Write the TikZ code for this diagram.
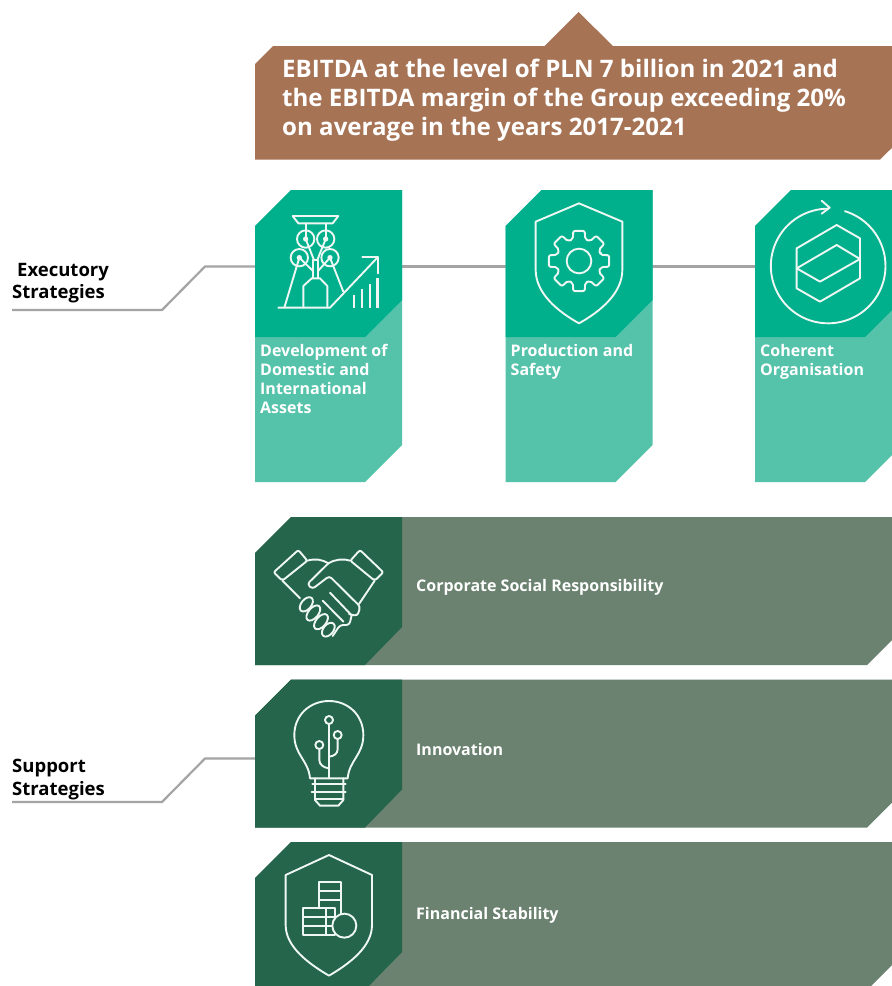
\documentclass[tikz,border=0pt]{standalone}
\usepackage{fontspec}
\setmainfont{Open Sans}
\definecolor{brownbar}{HTML}{A67355}
\definecolor{greenA}{HTML}{00B08C}
\definecolor{greenB}{HTML}{55C2AA}
\definecolor{darkA}{HTML}{24654C}
\definecolor{darkB}{HTML}{6B8270}
\definecolor{connc}{HTML}{A4A4A4}
\definecolor{iconc}{HTML}{EEF7F3}
\tikzset{
  conn/.style={draw=connc,line width=2.2pt,line join=round},
  icon/.style={x=0.33333pt,y=-0.33333pt,draw=iconc,line width=1.9pt,line join=round,line cap=round},
  cardtext/.style={text=white,font=\bfseries\fontsize{16}{19}\selectfont,align=left,inner sep=0pt},
  sidetext/.style={text=black,font=\bfseries\fontsize{18.5}{22.5}\selectfont,align=left,inner sep=0pt},
  titletext/.style={text=white,font=\bfseries\fontsize{24.1}{29.2}\selectfont,align=left,inner sep=0pt}
}
\newcommand{\myvcard}{%
  \fill[greenB] (0,226) -- (36,190) -- (147,190) -- (147,445) -- (110,482) -- (0,482) -- cycle;
  \fill[greenA] (0,226) -- (36,190) -- (147,190) -- (147,300) -- (110,337) -- (0,337) -- cycle;
}
\newcommand{\myhbar}[1]{%
  \begin{scope}[yshift=-#1pt]
  \fill[darkB] (0,36) -- (36,0) -- (660,0) -- (660,100) -- (612,148) -- (0,148) -- cycle;
  \fill[darkA] (0,36) -- (36,0) -- (147,0) -- (147,110) -- (110,148) -- (0,148) -- cycle;
  \end{scope}
}
\begin{document}
\begin{tikzpicture}[x=1pt,y=-1pt]
\useasboundingbox (0,0) rectangle (892,986);
\clip (0,0) rectangle (892,986);
\fill[white] (0,0) rectangle (892,986);

% anchors for connectors
\coordinate (execFree) at (12,310);
\coordinate (execKneeA) at (162,310);
\coordinate (execKneeB) at (205,266.5);
\coordinate (cardAL) at (256,266.5);
\coordinate (cardAR) at (401,266.5);
\coordinate (cardBL) at (506,266.5);
\coordinate (cardBR) at (652,266.5);
\coordinate (cardCL) at (756,266.5);
\coordinate (suppFree) at (12,802);
\coordinate (suppKneeA) at (162,802);
\coordinate (suppKneeB) at (205,758.5);
\coordinate (barBL) at (256,758.5);

\draw[conn] (execFree) -- (execKneeA) -- (execKneeB) -- (cardAL);
\draw[conn] (cardAR) -- (cardBL);
\draw[conn] (cardBR) -- (cardCL);
\draw[conn] (suppFree) -- (suppKneeA) -- (suppKneeB) -- (barBL);

% title banner
\fill[brownbar] (255,64) -- (273,46) -- (544.5,46) -- (578.5,12) -- (613,46) -- (900,46) -- (900,140) -- (880,159.5) -- (255,159.5) -- cycle;
\node[titletext,anchor=north west] (title) at (282,58.6) {EBITDA at the level of PLN 7 billion in 2021 and\\the EBITDA margin of the Group exceeding 20\%\\on average in the years 2017-2021};

% cards
\begin{scope}[xshift=255pt]\myvcard\end{scope}
\begin{scope}[xshift=505.5pt]\myvcard\end{scope}
\begin{scope}[xshift=755pt]\myvcard\end{scope}

\node[cardtext,anchor=north west] (lblA) at (260,344) {Development of\\Domestic and\\International\\Assets};
\node[cardtext,anchor=north west] (lblB) at (510.5,344) {Production and\\Safety};
\node[cardtext,anchor=north west] (lblC) at (760,344) {Coherent\\Organisation};

% bars
\begin{scope}[xshift=255pt]\myhbar{517}\myhbar{679.5}\myhbar{842}\end{scope}
\node[cardtext,anchor=west] (lblD) at (416,587.8) {Corporate Social Responsibility};
\node[cardtext,anchor=west] (lblE) at (416,749.3) {Innovation};
\node[cardtext,anchor=west] (lblF) at (416,915) {Financial Stability};

\node[sidetext,anchor=north west] (execLbl) at (12,263) {\hspace*{5pt}Executory\\Strategies};
\node[sidetext,anchor=north west] (suppLbl) at (12,759) {Support\\Strategies};

% mine icon
\begin{scope}[icon,xshift=240pt,yshift=-180pt]
  \draw (158,108) -- (295,108) -- (278,130) -- (175,130) -- cycle;
  \draw (197,130) -- (197,177) (257,130) -- (257,177);
  \foreach \cx/\cy in {197/177,257/177,178/233,270/233}{
    \draw (\cx,\cy) circle (26);
    \fill[iconc,draw=none] (\cx,\cy) circle (8);
  }
  \draw (178,233) -- (133,383);
  \draw (270,233) -- (310,335);
  \draw (197,177) -- (222,240) (257,177) -- (232,240);
  \draw (218,295) -- (218,240) -- (235,240) -- (235,295);
  \draw (178,233) -- (218,272) (270,233) -- (235,272);
  \draw (190,383) -- (190,318) -- (215,295) -- (240,295) -- (262,318) -- (262,383);
  \draw (115,383) -- (270,383) -- (413,232);
  \draw (367,232) -- (413,232) -- (413,280);
  \draw[line width=2.6pt,line cap=butt] (342,383) -- (342,345) (366,383) -- (366,328) (390,383) -- (390,312) (413,383) -- (413,295);
\end{scope}

% shield and gear icon
\begin{scope}[icon,xshift=500pt,yshift=-180pt]
  \draw (237,70) -- (367,125) -- (367,270) .. controls (367,340) and (300,395) .. (237,430) .. controls (174,395) and (107,340) .. (107,270) -- (107,125) -- cycle;
  \draw (237,243) circle (37);
  \begin{scope}[shift={(237,243)}]
    \draw[rounded corners=2pt] (-15.5:68) \foreach \a in {0,45,...,315}{ -- (\a-15.5:68) -- (\a-11:92) -- (\a+11:92) -- (\a+15.5:68)} -- cycle;
  \end{scope}
\end{scope}

% cycle and box icon
\begin{scope}[icon,xshift=500pt,yshift=-180pt]
  \draw plot[domain=-73:270,samples=90,smooth] ({984.5+172*cos(\x)},{258+172*sin(\x)});
  \draw (965,62) -- (989,83) -- (965,101);
  \draw (1010,135) -- (1080,175) -- (1080,295) -- (960,365) -- (890,325) -- (890,205) -- cycle;
  \draw (890,265) -- (1010,195) -- (1080,237) -- (960,305) -- cycle;
\end{scope}

% handshake icon
\begin{scope}[icon,xshift=250pt,yshift=-510pt]
  \draw[rounded corners=2pt] (71,187) -- (145,120) -- (172,152) -- (97,212) -- cycle;
  \draw[rounded corners=2pt] (400,187) -- (330,120) -- (301,152) -- (374,212) -- cycle;
  \draw (172,152) .. controls (195,145) and (215,148) .. (235,160);
  \draw (301,152) .. controls (280,145) and (255,148) .. (235,160);
  \draw[rounded corners=3pt] (235,160) -- (172,222) -- (187,237) -- (238,198) -- (331,290) -- (322,318) -- (297,312);
  \draw (374,212) -- (327,282);
  \draw (97,212) -- (150,265);
  \draw (218,272) -- (280,335) (240,248) -- (305,316);
  \draw[rounded corners=3pt] (305,316) -- (298,345) -- (270,345) -- (248,378);
  \draw[rotate around={50:(169,283)}] (169,283) ellipse (25 and 15);
  \draw[rotate around={50:(190,309)}] (190,309) ellipse (27 and 15);
  \draw[rotate around={50:(213,335)}] (213,335) ellipse (27 and 15);
  \draw[rotate around={50:(235,359)}] (235,359) ellipse (24 and 15);
\end{scope}

% bulb icon
\begin{scope}[icon,xshift=250pt,yshift=-675pt]
  \draw (180,310) .. controls (175,255) and (133,240) .. (133,180) .. controls (133,120) and (180,78) .. (237,78) .. controls (294,78) and (340,120) .. (340,180) .. controls (340,240) and (298,255) .. (293,310) -- cycle;
  \draw (187,327) -- (287,327) (185,351) -- (287,351) (195,372) -- (280,372);
  \draw (195,310) -- (195,375) -- (210,392) -- (265,392) -- (280,375) -- (280,310);
  \draw (237,147) -- (237,310);
  \draw (237,135) circle (12);
  \draw (263,180) circle (12);
  \draw (208,210) circle (12);
  \draw (263,192) -- (263,222) .. controls (263,238) and (250,243) .. (238,245);
  \draw (208,222) -- (208,255) .. controls (208,270) and (222,278) .. (237,280);
\end{scope}

% shield and blocks icon
\begin{scope}[icon,xshift=250pt,yshift=-675pt]
  \draw (237,540) -- (366,600) -- (366,750) .. controls (366,815) and (300,865) .. (237,902) .. controls (174,865) and (107,815) .. (107,750) -- (107,600) -- cycle;
  \draw (207,700) -- (207,622) -- (272,622) -- (272,718);
  \draw (207,648) -- (272,648) (207,675) -- (272,675);
  \draw (160,700) rectangle (255,780);
  \draw (160,725) -- (255,725) (160,752) -- (255,752) (228,700) -- (228,780);
  \filldraw[fill=darkA] (283,752) circle (36);
\end{scope}
\end{tikzpicture}
\end{document}
